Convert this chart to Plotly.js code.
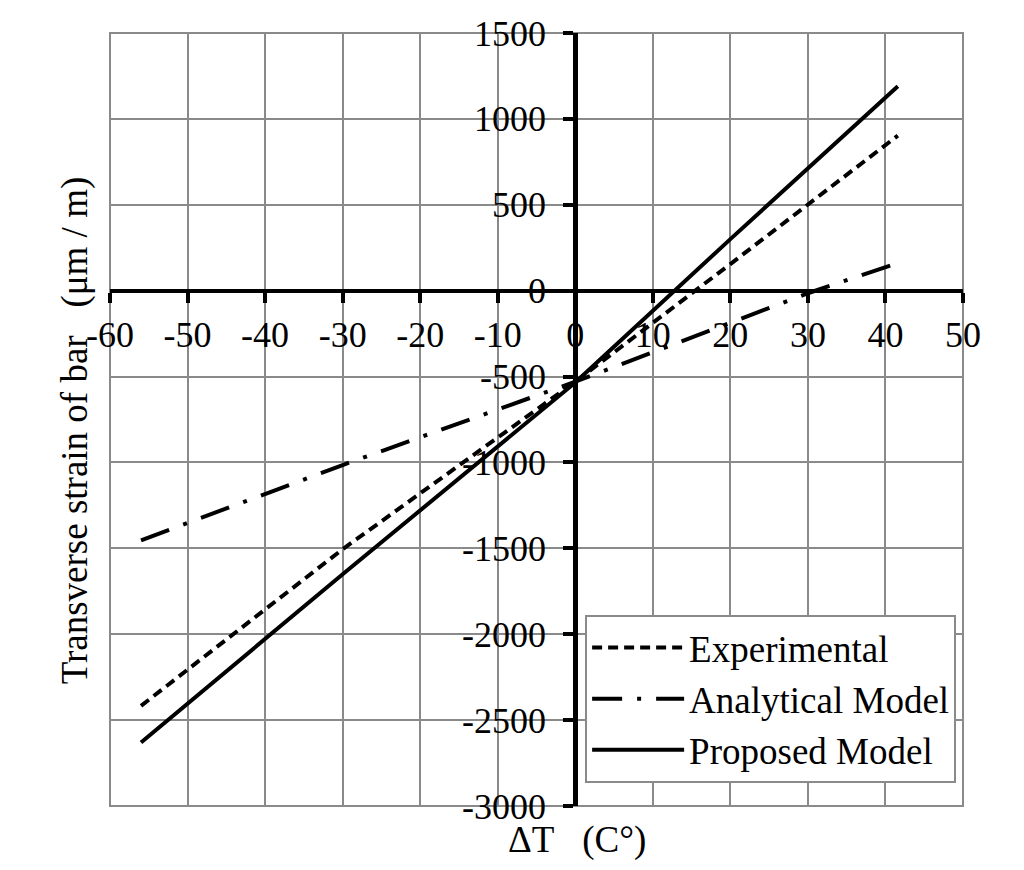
<!DOCTYPE html>
<html>
<head>
<meta charset="utf-8">
<script src="https://cdn.plot.ly/plotly-3.0.1.min.js"></script>
<style>html,body{margin:0;padding:0;background:#fff;}#chart{width:1024px;height:870px;}</style>
</head>
<body>
<div id="chart"></div>
<script>
// Data
const seriesNames = ["Experimental", "Analytical Model", "Proposed Model"];
const expT = [-56, -30, 0, 20, 41.6];
const expStrain = [-2417, -1505, -530, 155, 903];
const anaT = [-56, -30, 0, 30, 41.6];
const anaStrain = [-1453, -1015, -530, -15, 161];
const propT = [-56, -30, 0, 20, 41.6];
const propStrain = [-2630, -1651, -535, 300, 1190];
const xTicks = [-60, -50, -40, -30, -20, -10, 0, 10, 20, 30, 40, 50];
const yTicks = [-3000, -2500, -2000, -1500, -1000, -500, 0, 500, 1000, 1500];
const xTitle = "ΔT\u00a0\u00a0\u00a0(C°)";
const yTitle = "Transverse strain of bar\u00a0\u00a0\u00a0(μm / m)";

const FONT = "Liberation Serif, Times New Roman, serif";
const FS = 37;
const TFS = 36;
const GRID = "#8a8a8a";

const traces = [
  {x: expT, y: expStrain, name: seriesNames[0], mode: "lines",
   line: {color: "#000", width: 4, dash: "10px,6px"}},
  {x: anaT, y: anaStrain, name: seriesNames[1], mode: "lines",
   line: {color: "#000", width: 4, dash: "30px,15px,4px,15px"}},
  {x: propT, y: propStrain, name: seriesNames[2], mode: "lines",
   line: {color: "#000", width: 4}}
];

const layout = {
  width: 1024, height: 870,
  margin: {l: 110, r: 61, t: 33, b: 64},
  paper_bgcolor: "#fff", plot_bgcolor: "#fff",
  font: {family: FONT, size: FS, color: "#000"},
  showlegend: true,
  legend: {
    x: 0.557, y: 0.247, xanchor: "left", yanchor: "top",
    bgcolor: "#fff", bordercolor: GRID, borderwidth: 2,
    font: {family: FONT, size: FS, color: "#000"},
    itemwidth: 92, traceorder: "normal"
  },
  xaxis: {
    range: [-60, 50], tickvals: xTicks, ticktext: xTicks.map(String),
    showgrid: true, gridcolor: GRID, gridwidth: 2,
    zeroline: false, showline: true, linecolor: "#000", linewidth: 4.5,
    anchor: "free", position: 3000 / 4500,
    ticks: "outside", ticklen: 10, tickwidth: 4, tickcolor: "#000",
    ticklabelstandoff: 1,
    tickfont: {family: FONT, size: TFS, color: "#000"},
    fixedrange: true
  },
  yaxis: {
    range: [-3000, 1500], tickvals: yTicks, ticktext: yTicks.map(String),
    showgrid: true, gridcolor: GRID, gridwidth: 2,
    zeroline: false, showline: true, linecolor: "#000", linewidth: 4.5,
    anchor: "free", position: 60 / 110,
    ticks: "outside", ticklen: 10, tickwidth: 4, tickcolor: "#000",
    ticklabelstandoff: 10,
    tickfont: {family: FONT, size: TFS, color: "#000"},
    fixedrange: true
  },
  shapes: [
    {type: "rect", xref: "paper", yref: "paper", x0: 0, x1: 1, y0: 0, y1: 1,
     line: {color: GRID, width: 2}, layer: "below"}
  ],
  annotations: [
    {text: xTitle, xref: "paper", yref: "paper", x: 0.5475, y: -0.044,
     xanchor: "center", yanchor: "middle", showarrow: false,
     font: {family: FONT, size: FS, color: "#000"}},
    {text: yTitle, xref: "paper", yref: "paper", x: -0.041, y: 0.486,
     xanchor: "center", yanchor: "middle", textangle: -90, showarrow: false,
     font: {family: FONT, size: FS, color: "#000"}}
  ]
};

Plotly.newPlot("chart", traces, layout, {displayModeBar: false, staticPlot: true});
</script>
</body>
</html>
